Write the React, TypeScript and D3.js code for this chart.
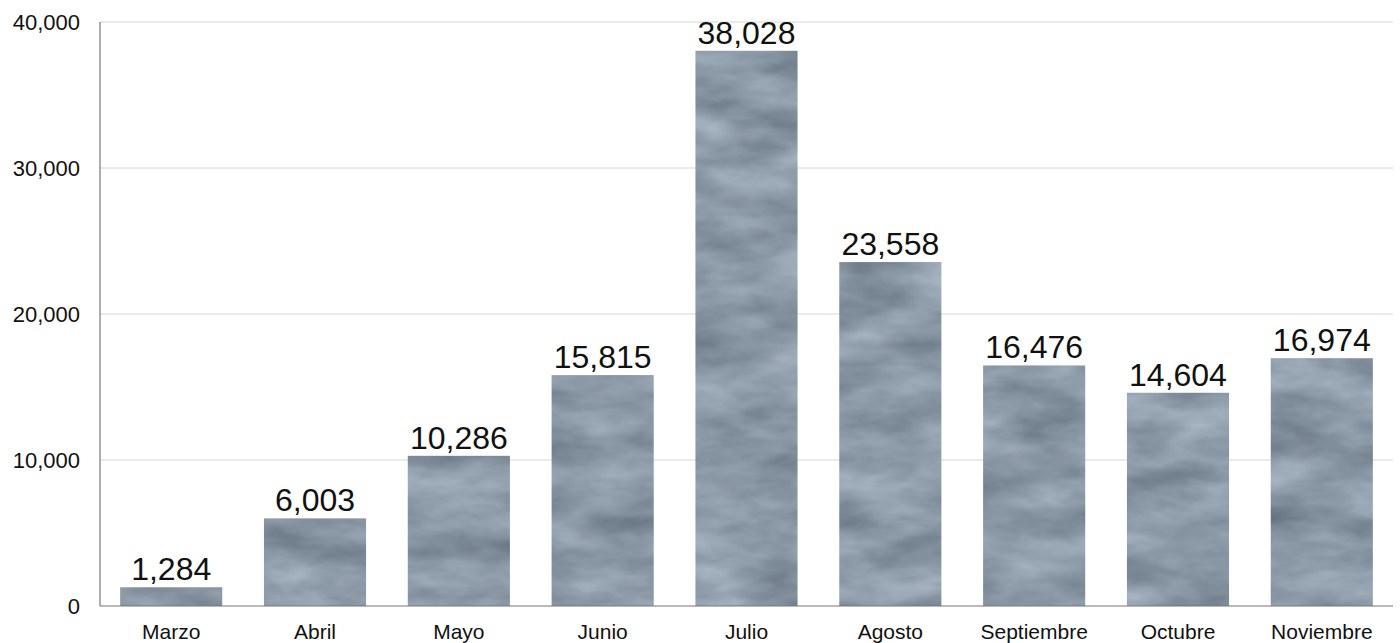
import { useEffect, useRef } from "react";
import * as d3 from "d3";

const months = [
  "Marzo",
  "Abril",
  "Mayo",
  "Junio",
  "Julio",
  "Agosto",
  "Septiembre",
  "Octubre",
  "Noviembre",
];
const visits = [1284, 6003, 10286, 15815, 38028, 23558, 16476, 14604, 16974];
const yTicks = [0, 10000, 20000, 30000, 40000];

function App() {
  const svgRef = useRef<SVGSVGElement>(null);

  useEffect(() => {
    if (!svgRef.current) return;
    d3.select(svgRef.current).selectAll("*").remove();

    const width = 1400;
    const height = 643;
    const margin = { top: 22, right: 7, bottom: 37, left: 100 };
    const font = "'Liberation Sans', Arial, Helvetica, sans-serif";

    const svg = d3
      .select(svgRef.current)
      .attr("width", width)
      .attr("height", height);

    // cloudy texture for the bars
    const defs = svg.append("defs");
    const filter = defs
      .append("filter")
      .attr("id", "cloth")
      .attr("x", "0")
      .attr("y", "0")
      .attr("width", "100%")
      .attr("height", "100%")
      .attr("color-interpolation-filters", "sRGB");
    filter
      .append("feTurbulence")
      .attr("type", "fractalNoise")
      .attr("baseFrequency", "0.012 0.03")
      .attr("numOctaves", 4)
      .attr("seed", 7)
      .attr("result", "noise");
    filter
      .append("feColorMatrix")
      .attr("in", "noise")
      .attr("type", "matrix")
      .attr(
        "values",
        "0.34 0 0 0 0.375  0.34 0 0 0 0.425  0.34 0 0 0 0.478  0 0 0 0 1"
      )
      .attr("result", "tint");
    filter
      .append("feComposite")
      .attr("in", "tint")
      .attr("in2", "SourceGraphic")
      .attr("operator", "in");

    const x = d3
      .scaleBand<string>()
      .domain(months)
      .range([margin.left, width - margin.right])
      .paddingInner(0.29)
      .paddingOuter(0.14);

    const y = d3
      .scaleLinear()
      .domain([0, 40000])
      .range([height - margin.bottom, margin.top]);

    // grid
    svg
      .append("g")
      .selectAll("line")
      .data(yTicks.filter((t) => t > 0))
      .enter()
      .append("line")
      .attr("x1", margin.left)
      .attr("x2", width - margin.right)
      .attr("y1", (d) => y(d))
      .attr("y2", (d) => y(d))
      .attr("stroke", "#d6d6d6")
      .attr("stroke-width", 1);

    // bars
    svg
      .append("g")
      .selectAll("rect")
      .data(visits)
      .enter()
      .append("rect")
      .attr("x", (_, i) => x(months[i]) as number)
      .attr("y", (d) => y(d))
      .attr("width", x.bandwidth())
      .attr("height", (d) => y(0) - y(d))
      .attr("fill", "#8895a2")
      .attr("filter", "url(#cloth)");

    // value labels
    svg
      .append("g")
      .selectAll("text")
      .data(visits)
      .enter()
      .append("text")
      .attr("x", (_, i) => (x(months[i]) as number) + x.bandwidth() / 2)
      .attr("y", (d) => y(d) - 7)
      .attr("text-anchor", "middle")
      .attr("font-family", font)
      .attr("font-size", 32)
      .attr("fill", "#111")
      .text((d) => d3.format(",")(d));

    // axes lines
    svg
      .append("line")
      .attr("x1", margin.left)
      .attr("x2", margin.left)
      .attr("y1", y(40000))
      .attr("y2", y(0))
      .attr("stroke", "#777")
      .attr("stroke-width", 1.2);
    svg
      .append("line")
      .attr("x1", margin.left)
      .attr("x2", width - margin.right)
      .attr("y1", y(0))
      .attr("y2", y(0))
      .attr("stroke", "#777")
      .attr("stroke-width", 1.2);

    // y tick labels
    svg
      .append("g")
      .selectAll("text")
      .data(yTicks)
      .enter()
      .append("text")
      .attr("x", margin.left - 20)
      .attr("y", (d) => y(d) + 8)
      .attr("text-anchor", "end")
      .attr("font-family", font)
      .attr("font-size", 22)
      .attr("fill", "#111")
      .text((d) => d3.format(",")(d));

    // month labels
    svg
      .append("g")
      .selectAll("text")
      .data(months)
      .enter()
      .append("text")
      .attr("x", (d) => (x(d) as number) + x.bandwidth() / 2)
      .attr("y", y(0) + 33)
      .attr("text-anchor", "middle")
      .attr("font-family", font)
      .attr("font-size", 21)
      .attr("fill", "#111")
      .text((d) => d);
  }, []);

  return (
    <div style={{ position: "absolute", left: 0, top: 0 }}>
      <svg ref={svgRef} style={{ display: "block" }}></svg>
    </div>
  );
}

export default App;
